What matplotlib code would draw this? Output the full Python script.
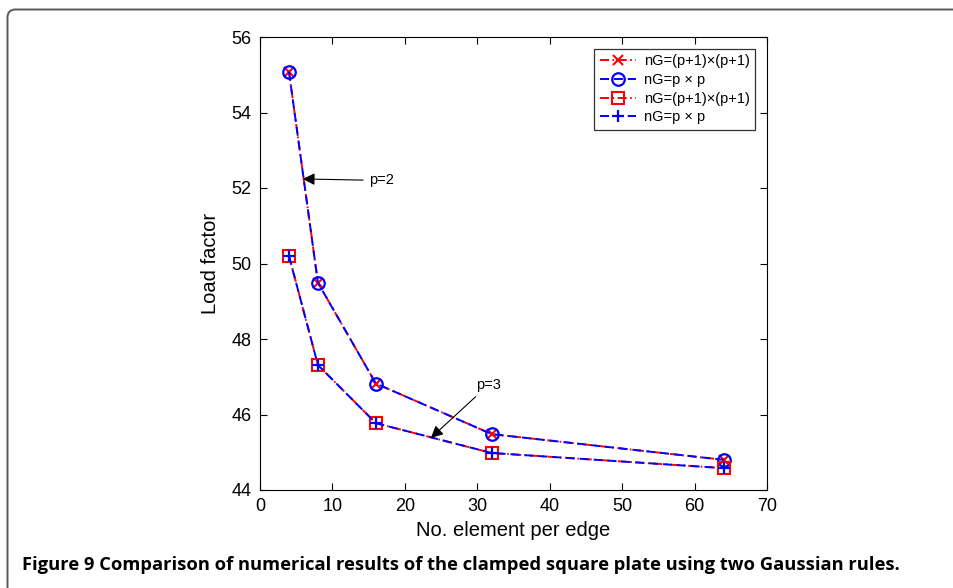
import matplotlib.pyplot as plt
from matplotlib.path import Path
from matplotlib.patches import PathPatch
from matplotlib.transforms import IdentityTransform

plt.rcParams['font.family'] = ['Liberation Sans', 'DejaVu Sans']
plt.rcParams['lines.scale_dashes'] = False

elements = [4, 8, 16, 32, 64]
p2_full = [55.08, 49.49, 46.82, 45.48, 44.80]
p2_reduced = [55.08, 49.49, 46.82, 45.48, 44.80]
p3_full = [50.20, 47.31, 45.77, 44.98, 44.58]
p3_reduced = [50.20, 47.31, 45.77, 44.98, 44.58]
legend_labels = ['nG=(p+1)×(p+1)', 'nG=p × p', 'nG=(p+1)×(p+1)', 'nG=p × p']

W, H = 954, 588
fig = plt.figure(figsize=(W / 100, H / 100), dpi=100)

# outer frame of the panel (pixel coords, origin bottom-left)
x0, ytop, r = 7.5, H - 9.5, 8
verts = [(x0, -20), (x0, ytop - r), (x0, ytop), (x0 + r, ytop), (W + 20, ytop)]
codes = [Path.MOVETO, Path.LINETO, Path.CURVE3, Path.CURVE3, Path.LINETO]
frame = PathPatch(Path(verts, codes), transform=IdentityTransform(), fill=False,
                  edgecolor='#5a5a5a', linewidth=1.4)
fig.add_artist(frame)

ax = fig.add_axes([260 / W, 1 - 490 / H, 507 / W, 453 / H])

blue_ls = (0, (6.5, 3.5))
red_ls = (0, (6.5, 2.5, 1.2, 2.5))
ax.plot(elements, p2_full, color='red', linestyle=red_ls, marker='x',
        markersize=7, markeredgewidth=1.5, linewidth=1.4, label=legend_labels[0])
ax.plot(elements, p2_reduced, color='blue', linestyle=blue_ls, marker='o',
        markersize=9, markerfacecolor='none', markeredgewidth=1.6, linewidth=1.4,
        label=legend_labels[1])
ax.plot(elements, p3_full, color='red', linestyle=red_ls, marker='s',
        markersize=8, markerfacecolor='none', markeredgewidth=1.5, linewidth=1.4,
        label=legend_labels[2])
ax.plot(elements, p3_reduced, color='blue', linestyle=blue_ls, marker='+',
        markersize=9, markeredgewidth=1.6, linewidth=1.4, label=legend_labels[3])

ax.set_xlim(0, 70)
ax.set_ylim(44, 56)
ax.set_xticks(range(0, 71, 10))
ax.set_yticks(range(44, 57, 2))
ax.tick_params(direction='in', top=True, right=True, labelsize=13, length=5, pad=6)
for s in ax.spines.values():
    s.set_linewidth(0.8)

ax.set_xlabel('No. element per edge', fontsize=14.5, labelpad=4)
ax.set_ylabel('Load factor', fontsize=14.5, labelpad=8)

ax.annotate('p=2', xy=(5.9, 52.24), xytext=(15.0, 52.2), fontsize=10.5,
            va='center', ha='left',
            arrowprops=dict(arrowstyle='-|>', color='black', lw=0.8,
                            mutation_scale=18, shrinkA=2, shrinkB=0))
ax.annotate('p=3', xy=(23.6, 45.38), xytext=(29.8, 46.78), fontsize=10.5,
            va='center', ha='left',
            arrowprops=dict(arrowstyle='-|>', color='black', lw=0.8,
                            mutation_scale=18, shrinkA=2, shrinkB=0))

leg = ax.legend(loc='upper right', fontsize=10.5, frameon=True, fancybox=False,
                edgecolor='black', handlelength=2.5, handletextpad=0.5,
                borderpad=0.4, labelspacing=0.32, borderaxespad=0.8)
leg.get_frame().set_linewidth(0.9)

fig.text(22 / W, 1 - 565 / H, 'Figure 9 Comparison of numerical results of the clamped '
         'square plate using two Gaussian rules.', fontsize=13.2, fontweight='bold',
         va='center', ha='left', family='Open Sans')

fig.savefig('out.png', dpi=100)
